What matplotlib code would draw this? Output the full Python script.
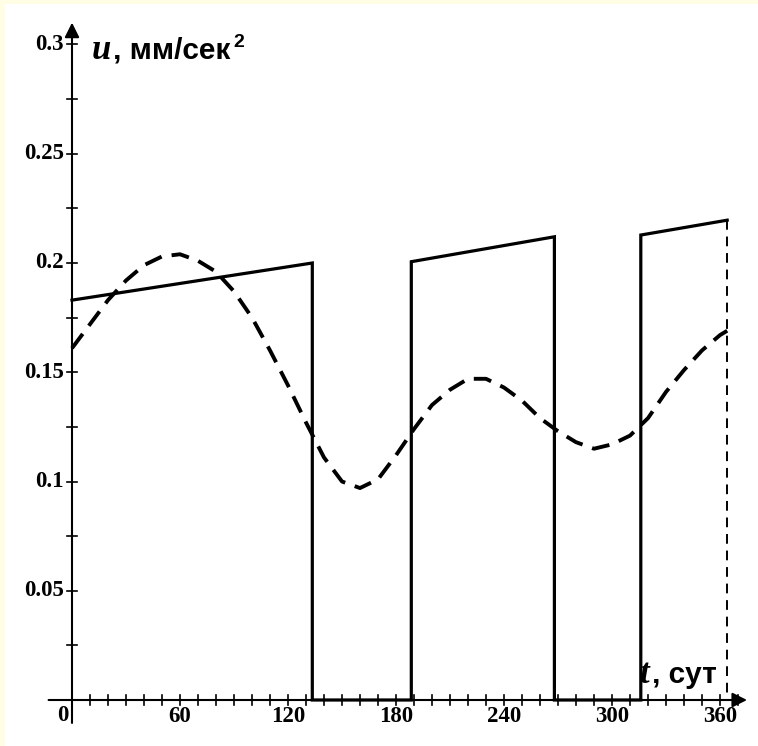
import matplotlib.pyplot as plt
import numpy as np
from matplotlib.patches import Rectangle

# control on/off intervals (days) and acceleration at their ends
on_start = [0, 188.5, 316]
on_end = [133.5, 268, 364]
u_on_start = [0.183, 0.2006, 0.2128]
u_on_end = [0.200, 0.212, 0.2196]

# dashed curve, read every 10 days
t_curve = [0, 10, 20, 30, 40, 50, 60, 70, 80, 90, 100, 110, 120, 130, 140, 150,
           160, 170, 180, 190, 200, 210, 220, 230, 240, 250, 260, 270, 280, 290,
           300, 310, 320, 330, 340, 350, 360, 364]
u_curve = [0.161, 0.172, 0.183, 0.192, 0.199, 0.203, 0.204, 0.201, 0.196, 0.187,
           0.175, 0.160, 0.144, 0.127, 0.111, 0.100, 0.097, 0.101, 0.112, 0.124,
           0.135, 0.142, 0.147, 0.147, 0.143, 0.137, 0.129, 0.123, 0.118, 0.115,
           0.117, 0.121, 0.129, 0.141, 0.151, 0.160, 0.167, 0.169]

x_labels = [60, 120, 180, 240, 300, 360]
y_labels = [0.05, 0.1, 0.15, 0.2, 0.25, 0.3]

# build the step path of the solid line
t_solid, u_solid = [], []
for i in range(len(on_start)):
    if i > 0:
        t_solid += [on_start[i]]
        u_solid += [0]
    t_solid += [on_start[i], on_end[i]]
    u_solid += [u_on_start[i], u_on_end[i]]
    if i < len(on_start) - 1:
        t_solid += [on_end[i]]
        u_solid += [0]

fig = plt.figure(figsize=(7.58, 7.46), dpi=100, facecolor='#fffde3')
fig.patches.append(Rectangle((5 / 758, 0), 1, 1 - 4 / 746, transform=fig.transFigure,
                             facecolor='white', edgecolor='none', zorder=-10))
ax = fig.add_axes([0, 0, 1, 1])
ax.set_axis_off()
ax.patch.set_visible(False)

pxx = 1.8      # pixels per day
pxy = 2185.0   # pixels per unit of u
ax.set_xlim(-72 / pxx, (758 - 72) / pxx)
ax.set_ylim(-46 / pxy, 700 / pxy)

serif = dict(family='Liberation Serif', weight='bold', size=16.5)

# axes with arrows
ax.annotate('', xy=(375, 0), xytext=(-13, 0),
            arrowprops=dict(arrowstyle='-|>', color='k', lw=1.5, mutation_scale=22,
                            shrinkA=0, shrinkB=0))
ax.annotate('', xy=(0, 0.310), xytext=(0, -0.0105),
            arrowprops=dict(arrowstyle='-|>', color='k', lw=1.5, mutation_scale=22,
                            shrinkA=0, shrinkB=0))

# tick marks
tx = 5 / pxy
for t in range(10, 371, 10):
    ax.plot([t, t], [-tx, tx], color='k', lw=1.2)
ty = 5 / pxx
for v in np.arange(0.025, 0.301, 0.025):
    ax.plot([-ty, ty], [v, v], color='k', lw=1.2)

for t in x_labels:
    ax.text(t, -6 / pxy, str(t), ha='center', va='top', **serif)
ax.text(-4 / pxx, -5 / pxy, '0', ha='right', va='top', **serif)
for v in y_labels:
    ax.text(-8 / pxx, v, f'{v:g}', ha='right', va='center', **serif)

# curves
ax.plot(t_solid, u_solid, color='k', lw=2.3, solid_joinstyle='miter')
ax.plot([on_end[-1], on_end[-1]], [u_on_end[-1], 0], color='k', lw=1.4,
        dashes=(5, 3.5))
ax.plot(t_curve, u_curve, color='k', lw=2.8, dashes=(4.6, 2.6), dash_capstyle='butt')

# axis titles
title = dict(family='Liberation Sans', weight='bold', size=21.5, va='baseline')
ital = dict(family='Liberation Serif', weight='bold', style='italic', size=25,
            va='baseline')
ax.text(20 / pxx, 0.2935, 'u', **ital)
ax.text(41 / pxx, 0.2935, ', мм/сек', **title)
ax.text(161 / pxx, 0.2988, '2', family='Liberation Sans', weight='bold', size=14,
        va='baseline')
ax.text(568 / pxx, 17 / pxy, 't', **ital)
ax.text(580 / pxx, 17 / pxy, ', сут', **title)

fig.savefig('out.png', dpi=100, facecolor=fig.get_facecolor())
